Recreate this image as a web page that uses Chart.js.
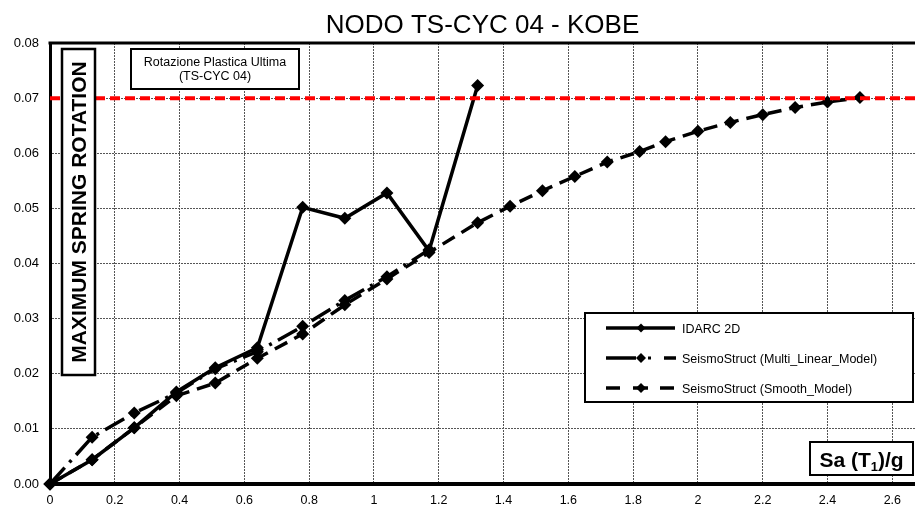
<!DOCTYPE html>
<html>
<head>
<meta charset="utf-8">
<script src="https://cdn.jsdelivr.net/npm/chart.js"></script>
<style>
html,body{margin:0;padding:0;background:#fff;}
#wrap{width:915px;height:507px;}
</style>
</head>
<body>
<div id="wrap"><canvas id="myChart" width="915" height="507"></canvas></div>
<script>
// Sa(T1)/g values and max spring rotation
var sa_idarc = [0, 0.13, 0.26, 0.39, 0.51, 0.64, 0.78, 0.91, 1.04, 1.17, 1.32];
var rot_idarc = [0, 0.0044, 0.0102, 0.0167, 0.0211, 0.0247, 0.0502, 0.0482, 0.0528, 0.0423, 0.0723];

var sa_multi = [0, 0.13, 0.26, 0.39, 0.51, 0.64, 0.78, 0.91, 1.04, 1.17];
var rot_multi = [0, 0.0085, 0.0129, 0.0165, 0.0209, 0.0240, 0.0286, 0.0333, 0.0376, 0.0425];

var sa_smooth = [0, 0.13, 0.26, 0.39, 0.51, 0.64, 0.78, 0.91, 1.04, 1.17, 1.32, 1.42, 1.52, 1.62, 1.72, 1.82, 1.90, 2.00, 2.10, 2.20, 2.30, 2.40, 2.50];
var rot_smooth = [0, 0.0044, 0.0102, 0.0160, 0.0183, 0.0228, 0.0272, 0.0325, 0.0372, 0.0420, 0.0474, 0.0504, 0.0532, 0.0558, 0.0584, 0.0603, 0.0621, 0.0640, 0.0656, 0.0670, 0.0683, 0.0693, 0.0701];

// ultimate plastic rotation limit
var limit_sa = [0, 2.67];
var limit_rot = [0.07, 0.07];

var seriesLabels = ["IDARC 2D", "SeismoStruct (Multi_Linear_Model)", "SeismoStruct (Smooth_Model)"];
var chartTitle = "NODO TS-CYC 04 - KOBE";
var yTitle = "MAXIMUM SPRING ROTATION";
var noteLines = ["Rotazione Plastica Ultima", "(TS-CYC 04)"];

var FONT = '"Liberation Sans", Arial, sans-serif';

function pts(xs, ys){
    var out = [];
    for (var i = 0; i < xs.length; i++) out.push({x: xs[i], y: ys[i]});
    return out;
}

function box(ctx, x, y, w, h, lw){
    ctx.save();
    ctx.fillStyle = "#fff";
    ctx.fillRect(x, y, w, h);
    ctx.lineWidth = lw;
    ctx.strokeStyle = "#000";
    ctx.strokeRect(x, y, w, h);
    ctx.restore();
}

function diamond(ctx, x, y, r){
    ctx.beginPath();
    ctx.moveTo(x, y - r);
    ctx.lineTo(x + r, y);
    ctx.lineTo(x, y + r);
    ctx.lineTo(x - r, y);
    ctx.closePath();
    ctx.fill();
}

function seg(ctx, x1, x2, y){
    ctx.beginPath();
    ctx.moveTo(x1, y);
    ctx.lineTo(x2, y);
    ctx.stroke();
}

var decorations = {
    id: "decorations",
    afterDatasetsDraw: function(chart){
        var ctx = chart.ctx;
        var ca = chart.chartArea;
        ctx.save();

        // top frame line
        ctx.strokeStyle = "#000";
        ctx.lineWidth = 3;
        seg(ctx, ca.left - 1.5, chart.width, ca.top);

        // title
        ctx.fillStyle = "#000";
        ctx.font = "26px " + FONT;
        ctx.textAlign = "center";
        ctx.textBaseline = "alphabetic";
        ctx.fillText(chartTitle, (ca.left + ca.right) / 2, 33);

        // vertical axis title in a box
        box(ctx, 62, 49, 33, 326, 2.5);
        ctx.save();
        ctx.translate(79, 212);
        ctx.rotate(-Math.PI / 2);
        ctx.font = "bold 21px " + FONT;
        ctx.textAlign = "center";
        ctx.textBaseline = "middle";
        ctx.fillStyle = "#000";
        ctx.fillText(yTitle, 0, 1);
        ctx.restore();

        // note box
        box(ctx, 131, 49, 168, 40, 2);
        ctx.font = "12.5px " + FONT;
        ctx.textAlign = "center";
        ctx.fillText(noteLines[0], 215, 66);
        ctx.fillText(noteLines[1], 215, 80);

        // legend
        box(ctx, 585, 313, 328, 89, 2);
        ctx.strokeStyle = "#000";
        ctx.fillStyle = "#000";
        ctx.lineWidth = 3.5;
        ctx.lineCap = "butt";
        var ly = [328, 358, 388];
        seg(ctx, 606, 675, ly[0]);
        diamond(ctx, 641, ly[0], 4.5);
        seg(ctx, 606, 636, ly[1]);
        diamond(ctx, 641, ly[1], 5);
        ctx.fillRect(648, ly[1] - 1.5, 3, 3);
        seg(ctx, 664, 676, ly[1]);
        seg(ctx, 606, 620, ly[2]);
        seg(ctx, 633, 648, ly[2]);
        diamond(ctx, 641, ly[2], 5);
        seg(ctx, 660, 674, ly[2]);
        ctx.font = "12.5px " + FONT;
        ctx.textAlign = "left";
        for (var i = 0; i < seriesLabels.length; i++){
            ctx.fillText(seriesLabels[i], 682, ly[i] + 4.5);
        }

        // x axis title box: Sa (T1)/g
        box(ctx, 810, 442, 103, 33, 2);
        ctx.font = "bold 21px " + FONT;
        var p1 = "Sa (T", p2 = "1", p3 = ")/g";
        var w1 = ctx.measureText(p1).width;
        var w3 = ctx.measureText(p3).width;
        ctx.font = "bold 13px " + FONT;
        var w2 = ctx.measureText(p2).width;
        var sx = 861.5 - (w1 + w2 + w3) / 2;
        ctx.font = "bold 21px " + FONT;
        ctx.fillText(p1, sx, 467);
        ctx.font = "bold 13px " + FONT;
        ctx.fillText(p2, sx + w1, 471);
        ctx.font = "bold 21px " + FONT;
        ctx.fillText(p3, sx + w1 + w2, 467);

        ctx.restore();
    }
};

var ctx = document.getElementById("myChart").getContext("2d");
var myChart = new Chart(ctx, {
    type: "line",
    data: {
        datasets: [
            {
                label: seriesLabels[0],
                data: pts(sa_idarc, rot_idarc),
                borderColor: "#000",
                backgroundColor: "#000",
                borderWidth: 3.5,
                pointStyle: "rectRot",
                pointRadius: 6.5,
                pointBorderWidth: 0,
                tension: 0,
                clip: false,
                order: 1
            },
            {
                label: seriesLabels[1],
                data: pts(sa_multi, rot_multi),
                borderColor: "#000",
                backgroundColor: "#000",
                borderWidth: 3.5,
                borderDash: [22, 7, 3, 7],
                pointStyle: "rectRot",
                pointRadius: 6.5,
                pointBorderWidth: 0,
                tension: 0,
                clip: false,
                order: 2
            },
            {
                label: seriesLabels[2],
                data: pts(sa_smooth, rot_smooth),
                borderColor: "#000",
                backgroundColor: "#000",
                borderWidth: 3.5,
                borderDash: [14, 8],
                pointStyle: "rectRot",
                pointRadius: 6.5,
                pointBorderWidth: 0,
                tension: 0,
                clip: false,
                order: 3
            },
            {
                label: "limit",
                data: pts(limit_sa, limit_rot),
                borderColor: "#ff0000",
                borderWidth: 4,
                borderDash: [10, 5],
                pointRadius: 0,
                tension: 0,
                clip: false,
                order: 0
            }
        ]
    },
    options: {
        responsive: false,
        animation: false,
        layout: {autoPadding: false, padding: {top: 43, left: 0, right: 0, bottom: 0}},
        plugins: {
            legend: {display: false},
            tooltip: {enabled: false},
            title: {display: false}
        },
        scales: {
            x: {
                type: "linear",
                min: 0,
                max: 2.67,
                afterFit: function(s){ s.height = 23; s.paddingLeft = 0; s.paddingRight = 0; },
                border: {display: true, color: "#000", width: 4, dash: [2, 1]},
                grid: {color: "#555", lineWidth: 1, drawTicks: false},
                ticks: {
                    stepSize: 0.2,
                    includeBounds: false,
                    padding: 9,
                    maxRotation: 0,
                    autoSkip: false,
                    color: "#000",
                    font: {family: FONT, size: 12.5},
                    callback: function(v){ return String(Number(v.toFixed(1))); }
                }
            },
            y: {
                type: "linear",
                min: 0,
                max: 0.08,
                afterFit: function(s){ s.width = 50; },
                border: {display: true, color: "#000", width: 3, dash: [2, 1]},
                grid: {color: "#555", lineWidth: 1, drawTicks: false},
                ticks: {
                    stepSize: 0.01,
                    padding: 11,
                    color: "#000",
                    font: {family: FONT, size: 13},
                    callback: function(v){ return v.toFixed(2); }
                }
            }
        }
    },
    plugins: [decorations]
});
</script>
</body>
</html>
